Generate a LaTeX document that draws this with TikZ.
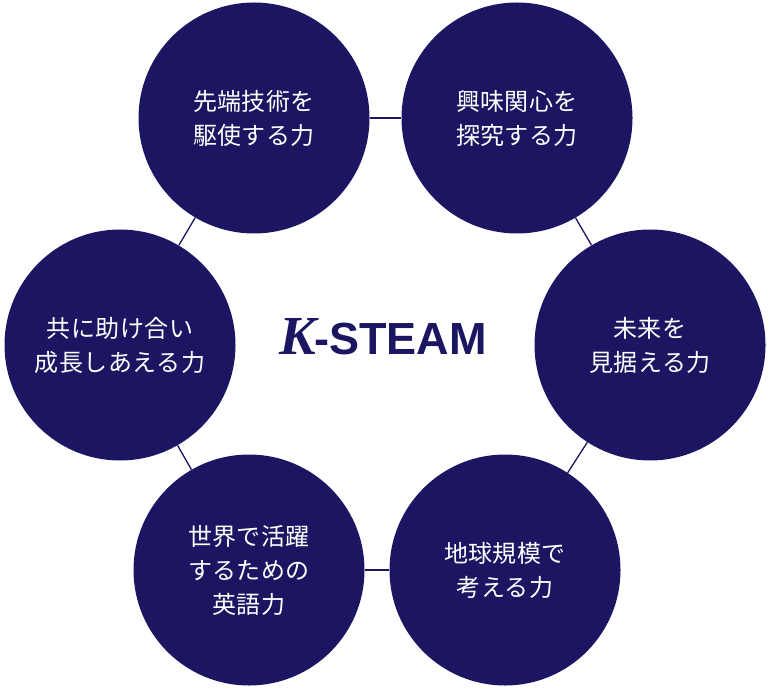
\documentclass[tikz,border=0pt]{standalone}
\usepackage{fontspec}
\newfontfamily\cjk{Noto Sans CJK JP}[LetterSpace=2]
\newfontfamily\kserif{Liberation Serif}
\newfontfamily\ksans{Liberation Sans}
\definecolor{navy}{HTML}{1C1662}
\begin{document}
\begin{tikzpicture}[x=1pt,y=-1pt,
  bubble/.style={circle,fill=navy,minimum size=231pt,inner sep=0pt,text=white,
    align=center,font=\cjk\fontsize{24}{34}\selectfont},
  link/.style={draw=navy,line width=1.3pt}]
\useasboundingbox (0,0) rectangle (770,700);
\node[bubble] (c1) at (254,118) {先端技術を\\駆使する力};
\node[bubble] (c2) at (517,118) {興味関心を\\探究する力};
\node[bubble] (c3) at (650,345) {未来を\\見据える力};
\node[bubble] (c4) at (505,570) {地球規模で\\考える力};
\node[bubble] (c5) at (249,570) {世界で活躍\\するための\\英語力};
\node[bubble] (c6) at (120,345) {共に助け合い\\成長しあえる力};
\draw[link] (c1) -- (c2);
\draw[link] (c2) -- (c3);
\draw[link] (c3) -- (c4);
\draw[link] (c4) -- (c5);
\draw[link] (c5) -- (c6);
\draw[link] (c6) -- (c1);
\node[text=navy,anchor=base,inner sep=0pt] (title) at (383,354)
  {{\kserif\bfseries\itshape\fontsize{55}{55}\selectfont K}\kern-2pt{\ksans\bfseries\fontsize{45}{45}\selectfont -STEAM}};
\end{tikzpicture}
\end{document}
